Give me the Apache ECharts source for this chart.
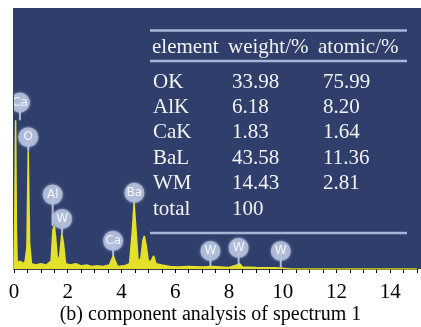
<!DOCTYPE html>
<html>
<head>
<meta charset="utf-8">
<script src="https://cdn.jsdelivr.net/npm/echarts@6/dist/echarts.min.js"></script>
<style>
	html, body { margin: 0; padding: 0; background: #fff; }
	#chart { width: 421px; height: 327px; }
</style>
</head>
<body>
<div id="chart"></div>
<script>
	// spectrum: energy (keV) and counts (0-100 of plot height)
	let energy = [0, 0.03, 0.06, 0.09, 0.12, 0.2, 0.27, 0.4, 0.48, 0.53, 0.58, 0.65, 0.8, 1.0, 1.2, 1.38, 1.45, 1.5, 1.55, 1.62, 1.7, 1.78, 1.84, 1.92, 2.1, 2.3, 2.5, 2.7, 2.9, 3.1, 3.3, 3.55, 3.65, 3.7, 3.75, 3.85, 4.1, 4.3, 4.4, 4.47, 4.54, 4.62, 4.72, 4.8, 4.85, 4.92, 5.0, 5.1, 5.2, 5.28, 5.5, 5.8, 6.1, 6.5, 7.0, 7.4, 8.0, 8.3, 8.4, 8.5, 9.0, 9.7, 10.0, 10.3, 15];
	let counts = [0, 20, 57, 15, 2, 3, 3, 2, 8, 45, 10, 2, 1.5, 2, 1.5, 3, 15, 16.5, 12, 3, 5, 13.5, 10, 2, 1.5, 2, 1.2, 1.5, 1, 1.2, 1, 1.5, 4, 5, 3.5, 1, 1.2, 2, 14, 25.4, 15, 3, 4, 11, 12.7, 9, 3, 3, 5, 2, 1.5, 1, 0.8, 1, 0.8, 1, 0.6, 1.5, 2, 0.8, 0.6, 0.5, 0.3, 0, 0];

	// peak labels
	let peakNames = ['Ca', 'O', 'Al', 'W', 'Ca', 'Ba', 'W', 'W', 'W'];
	let peakX = [0.22, 0.53, 1.44, 1.79, 3.69, 4.48, 7.31, 8.36, 9.93];
	let peakY = [63.8, 50.5, 28.5, 19.2, 10.8, 29.2, 6.9, 8.1, 6.9];
	let peakBase = [57, 45, 16.5, 13.5, 5, 25.4, 1, 1.5, 0.5];

	// table
	let tableHead = ['element', 'weight/%', 'atomic/%'];
	let elements = ['OK', 'AlK', 'CaK', 'BaL', 'WM', 'total'];
	let weights = ['33.98', '6.18', '1.83', '43.58', '14.43', '100'];
	let atomics = ['75.99', '8.20', '1.64', '11.36', '2.81', ''];

	let serif = '"Liberation Serif", "Times New Roman", serif';
	let chart = echarts.init(document.getElementById('chart'));

	let graphics = [{
		type: 'rect', z: -1,
		shape: { x: 13, y: 8, width: 408, height: 261 },
		style: { fill: '#2f3e6b' }
	}];
	let lineStyle = { stroke: '#a7b6d6', lineWidth: 2.5 };
	[30.5, 61, 233].forEach(function(y) {
		graphics.push({ type: 'line', z: 5, shape: { x1: 150, y1: y, x2: 407, y2: y }, style: lineStyle });
	});
	let colX = [152, 228, 318];
	tableHead.forEach(function(t, i) {
		graphics.push({ type: 'text', z: 5, style: { text: t, x: colX[i], y: 47, verticalAlign: 'middle', fill: '#f2f2f2', font: '21px ' + serif } });
	});
	let dataX = [153, 232, 323];
	for (let i = 0; i < elements.length; i++) {
		let y = 82 + i * 25.4;
		[elements[i], weights[i], atomics[i]].forEach(function(t, j) {
			graphics.push({ type: 'text', z: 5, style: { text: t, x: dataX[j], y: y, verticalAlign: 'middle', fill: '#f2f2f2', font: '21px ' + serif } });
		});
	}

	let option = {
		animation: false,
		title: {
			text: '(b) component analysis of spectrum 1',
			left: 'center',
			top: 300,
			textStyle: { fontFamily: serif, fontSize: 20, fontWeight: 'normal', color: '#000' }
		},
		grid: { left: 14, right: 4, top: 8, bottom: 58 },
		graphic: graphics,
		xAxis: {
			type: 'value',
			min: 0,
			max: 15,
			interval: 0.5,
			splitLine: { show: false },
			axisLine: { lineStyle: { color: '#000', width: 1.5 } },
			axisTick: { length: 4, lineStyle: { color: '#000' } },
			axisLabel: {
				margin: 13,
				color: '#000',
				fontFamily: serif,
				fontSize: 21,
				formatter: function(v) { return v % 2 === 0 ? String(v) : ''; }
			}
		},
		yAxis: { type: 'value', min: 0, max: 100, show: false },
		series: [{
			type: 'line',
			data: energy.map(function(e, i) { return [e, counts[i]]; }),
			showSymbol: false,
			lineStyle: { color: '#e4e12a', width: 1.5 },
			areaStyle: { color: '#e4e12a', opacity: 1 },
			z: 2
		}, {
			type: 'custom',
			clip: true,
			data: peakX.map(function(x, i) { return [x, peakY[i], peakBase[i]]; }),
			renderItem: function(params, api) {
				let c = api.coord([api.value(0), api.value(1)]);
				let b = api.coord([api.value(0), api.value(2)]);
				return {
					type: 'group',
					children: [{
						type: 'line',
						shape: { x1: c[0], y1: c[1], x2: b[0], y2: b[1] },
						style: { stroke: 'rgba(200,210,232,0.85)', lineWidth: 2 }
					}, {
						type: 'circle',
						shape: { cx: c[0], cy: c[1], r: 10 },
						style: { fill: 'rgba(178,190,220,0.85)', shadowBlur: 3, shadowColor: 'rgba(210,220,240,0.8)' }
					}, {
						type: 'text',
						style: { text: peakNames[params.dataIndex], x: c[0], y: c[1], align: 'center', verticalAlign: 'middle', fill: '#f4f6fb', font: '12px "DejaVu Sans", sans-serif' }
					}]
				};
			},
			z: 3
		}]
	};
	chart.setOption(option);
</script>
</body>
</html>
